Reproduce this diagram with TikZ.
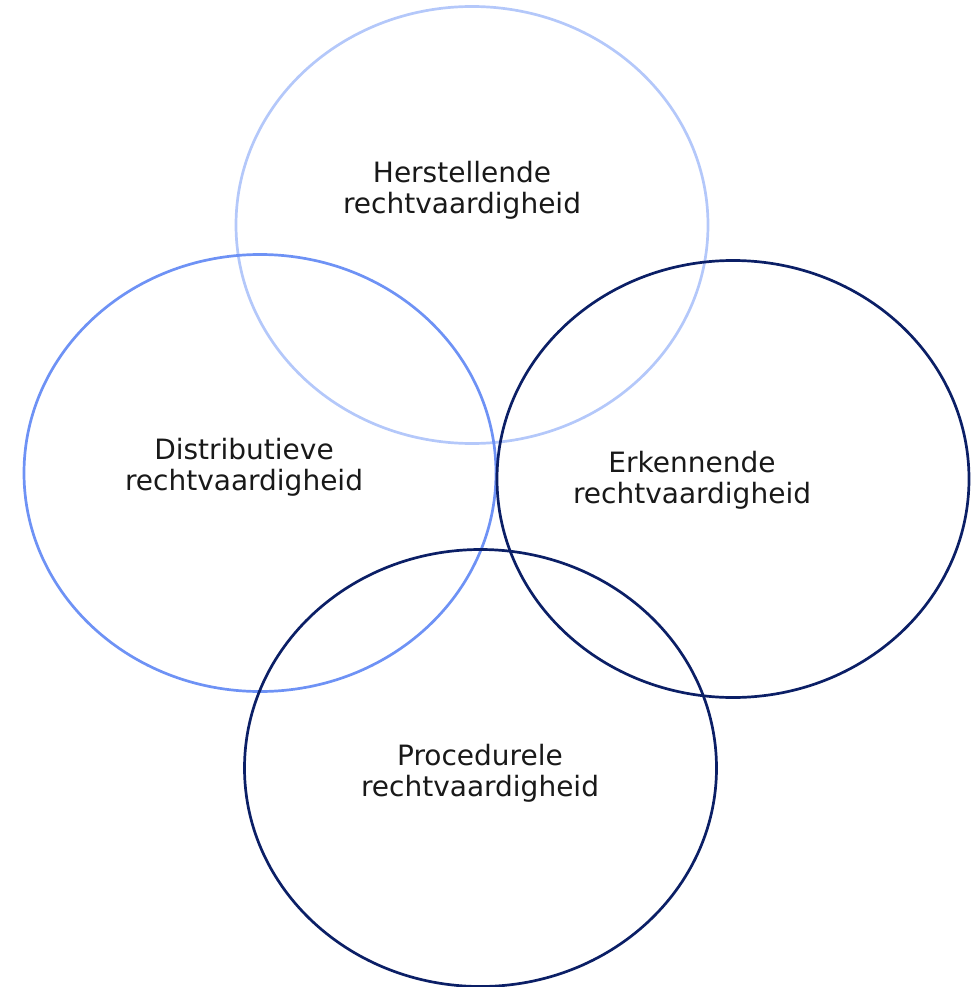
\documentclass[tikz,border=0pt]{standalone}
\usepackage{fontspec}
\setmainfont{DejaVu Sans}
\usetikzlibrary{shapes.geometric}
\definecolor{cTop}{HTML}{B4C8FA}
\definecolor{cLeft}{HTML}{6E92F5}
\definecolor{cDark}{HTML}{0B1F66}
\begin{document}
\begin{tikzpicture}[x=1pt,y=-1pt,
  ring/.style={ellipse, draw, line width=2.7pt, inner sep=0pt, minimum width=472pt, minimum height=437pt},
  lbl/.style={align=center, inner sep=0pt, font=\fontsize{28pt}{31pt}\selectfont, text=black!90}]
\useasboundingbox (0,0) rectangle (978,987);
\node[ring, draw=cTop] (top) at (472,225) {};
\node[ring, draw=cLeft] (left) at (260,473) {};
\node[ring, draw=cDark] (right) at (733,479) {};
\node[ring, draw=cDark] (bottom) at (480.5,768) {};
\node[lbl] (ltop) at (462,190) {Herstellende\\rechtvaardigheid};
\node[lbl] (lleft) at (244,467) {Distributieve\\rechtvaardigheid};
\node[lbl] (lright) at (692,480) {Erkennende\\rechtvaardigheid};
\node[lbl] (lbottom) at (480,773) {Procedurele\\rechtvaardigheid};
\end{tikzpicture}
\end{document}
